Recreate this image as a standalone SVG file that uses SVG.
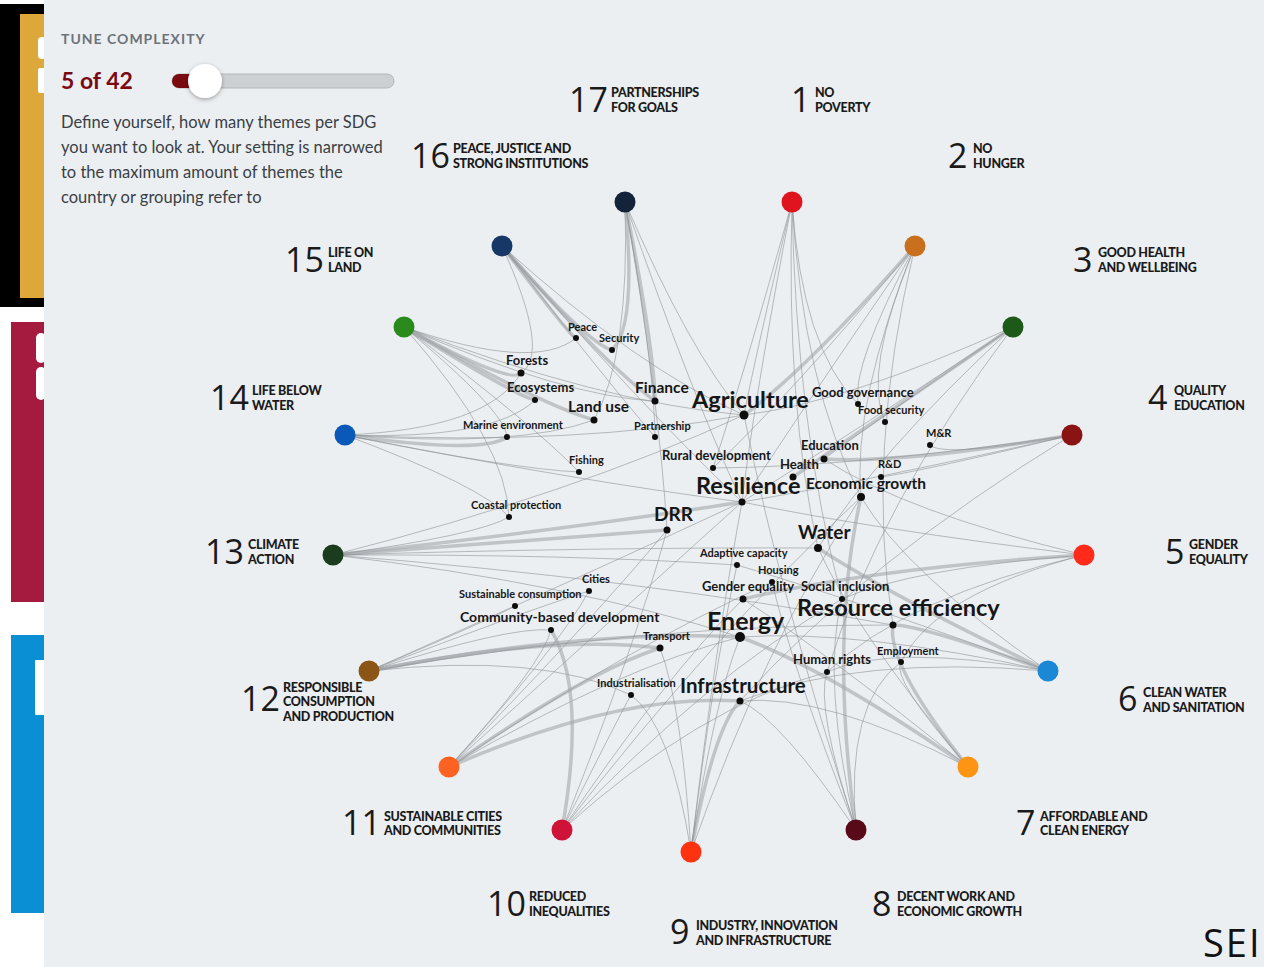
<svg xmlns="http://www.w3.org/2000/svg" width="1264" height="967" viewBox="0 0 1264 967">
<defs>
<style>
.e{fill:none;stroke:#8e9296;stroke-width:1;opacity:.6}
.t{fill:none;stroke:#a3a6aa;stroke-width:3.5;opacity:.6}
.num{font-family:"Open Sans","Liberation Sans",sans-serif;font-weight:400;font-size:34px;fill:#1a1a1a}
.cap{font-family:Lato,"Liberation Sans",sans-serif;font-weight:900;font-size:12.5px;fill:#1a1a1a;letter-spacing:-0.3px}
.lb{font-family:Lato,"Liberation Sans",sans-serif;font-weight:700;fill:#161616}
.xs{font-size:11px}.s{font-size:13px}.m{font-size:15.5px}.l{font-size:19px}.xl{font-size:23.5px}
.dot{fill:#0d0d0d}
.para{font-family:Lato,"Liberation Sans",sans-serif;font-size:16.5px;fill:#3a3f45}
.sl{fill:#fff}
</style>
<filter id="sh" x="-50%" y="-50%" width="200%" height="200%"><feDropShadow dx="0" dy="1.5" stdDeviation="2" flood-color="#000" flood-opacity="0.35"/></filter>
</defs>
<rect x="0" y="0" width="1264" height="967" fill="#ffffff"/>
<g id="left-strip">
<rect x="0" y="4" width="44" height="303" fill="#000"/>
<rect x="20" y="14" width="24" height="284" fill="#dea73a"/>
<rect class="sl" x="38" y="37" width="8" height="22" rx="4"/>
<rect class="sl" x="38" y="68" width="8" height="25" rx="2"/>
<rect x="11" y="322" width="33" height="280" fill="#a51b40"/>
<rect class="sl" x="36" y="333" width="10" height="30" rx="5"/>
<rect class="sl" x="36" y="367" width="10" height="33" rx="5"/>
<rect x="11" y="635" width="33" height="278" fill="#0a8fd4"/>
<rect class="sl" x="35" y="660" width="11" height="55" rx="1"/>
</g>
<rect x="44" y="0" width="1220" height="967" fill="#eceff2"/>
<g id="panel">
<text x="61" y="44" font-family="Lato,'Liberation Sans',sans-serif" font-weight="700" font-size="14" letter-spacing="1" fill="#6d737a">TUNE COMPLEXITY</text>
<text x="61" y="89" font-family="Lato,'Liberation Sans',sans-serif" font-weight="700" font-size="23" fill="#7a0a12">5 of 42</text>
<rect x="172" y="74" width="222" height="14" rx="7" fill="#cdd0d3" stroke="#b3b6b9" stroke-width="1"/>
<rect x="172" y="74" width="40" height="14" rx="7" fill="#7a0a10"/>
<circle cx="205" cy="81" r="17" fill="#fff" filter="url(#sh)"/>
<text class="para" x="61" y="128">Define yourself, how many themes per SDG</text>
<text class="para" x="61" y="153">you want to look at. Your setting is narrowed</text>
<text class="para" x="61" y="178">to the maximum amount of themes the</text>
<text class="para" x="61" y="203">country or grouping refer to</text>
</g>
<g id="connectors">
<path class="t" d="M625,202 Q654,347 655,401"/>
<path class="e" d="M625,202 Q690,353 744,415"/>
<path class="e" d="M625,202 Q654,362 655,437"/>
<path class="e" d="M625,202 Q689,388 742,502"/>
<path class="e" d="M625,202 Q630,355 594,420"/>
<path class="t" d="M625,202 Q637,327 612,350"/>
<path class="e" d="M625,202 Q659,399 667,530"/>
<path class="t" d="M502,246 Q573,340 576,338"/>
<path class="t" d="M502,246 Q588,344 612,350"/>
<path class="t" d="M502,246 Q605,365 655,401"/>
<path class="e" d="M502,246 Q640,370 744,415"/>
<path class="e" d="M502,246 Q605,379 655,437"/>
<path class="e" d="M502,246 Q640,405 742,502"/>
<path class="e" d="M502,246 Q551,354 521,373"/>
<path class="t" d="M404,327 Q512,386 521,373"/>
<path class="t" d="M404,327 Q518,397 535,400"/>
<path class="t" d="M404,327 Q541,405 594,420"/>
<path class="e" d="M404,327 Q601,403 744,415"/>
<path class="e" d="M404,327 Q534,372 576,338"/>
<path class="e" d="M404,327 Q566,397 655,401"/>
<path class="e" d="M404,327 Q507,444 509,517"/>
<path class="e" d="M404,327 Q535,426 579,472"/>
<path class="e" d="M404,327 Q506,412 507,437"/>
<path class="t" d="M345,435 Q483,455 507,437"/>
<path class="e" d="M345,435 Q512,469 579,472"/>
<path class="e" d="M345,435 Q494,440 535,400"/>
<path class="e" d="M345,435 Q518,448 594,420"/>
<path class="e" d="M345,435 Q484,487 509,517"/>
<path class="e" d="M345,435 Q578,446 744,415"/>
<path class="e" d="M345,435 Q577,481 742,502"/>
<path class="e" d="M345,435 Q488,429 521,373"/>
<path class="t" d="M333,555 Q542,540 667,530"/>
<path class="t" d="M333,555 Q572,529 742,502"/>
<path class="e" d="M333,555 Q479,535 509,517"/>
<path class="e" d="M333,555 Q570,554 737,565"/>
<path class="e" d="M333,555 Q571,583 740,637"/>
<path class="e" d="M333,555 Q602,547 818,548"/>
<path class="e" d="M333,555 Q573,494 744,415"/>
<path class="e" d="M333,555 Q632,578 893,625"/>
<path class="e" d="M369,671 Q496,617 515,606"/>
<path class="t" d="M369,671 Q554,634 660,648"/>
<path class="t" d="M369,671 Q586,629 740,637"/>
<path class="e" d="M369,671 Q647,624 893,625"/>
<path class="e" d="M369,671 Q525,611 589,591"/>
<path class="e" d="M369,671 Q510,626 551,630"/>
<path class="e" d="M369,671 Q542,652 631,695"/>
<path class="e" d="M369,671 Q586,575 742,502"/>
<path class="e" d="M449,767 Q557,649 589,591"/>
<path class="t" d="M449,767 Q586,672 660,648"/>
<path class="t" d="M449,767 Q618,693 740,701"/>
<path class="e" d="M449,767 Q618,668 740,637"/>
<path class="e" d="M449,767 Q630,646 772,582"/>
<path class="e" d="M449,767 Q618,614 742,502"/>
<path class="e" d="M449,767 Q542,665 551,630"/>
<path class="e" d="M449,767 Q588,625 667,530"/>
<path class="t" d="M562,830 Q587,690 551,630"/>
<path class="e" d="M562,830 Q664,678 743,599"/>
<path class="e" d="M562,830 Q704,678 842,599"/>
<path class="e" d="M562,830 Q698,707 827,672"/>
<path class="e" d="M562,830 Q619,716 631,695"/>
<path class="e" d="M562,830 Q711,637 861,497"/>
<path class="e" d="M562,830 Q634,650 667,530"/>
<path class="t" d="M691,852 Q714,727 740,701"/>
<path class="e" d="M691,852 Q671,725 631,695"/>
<path class="e" d="M691,852 Q714,702 740,637"/>
<path class="e" d="M691,852 Q715,648 742,502"/>
<path class="e" d="M691,852 Q682,706 660,648"/>
<path class="e" d="M691,852 Q763,646 861,497"/>
<path class="e" d="M691,852 Q713,673 737,565"/>
<path class="t" d="M856,830 Q829,637 861,497"/>
<path class="e" d="M856,830 Q845,703 901,662"/>
<path class="e" d="M856,830 Q815,707 827,672"/>
<path class="e" d="M856,830 Q780,718 740,701"/>
<path class="e" d="M856,830 Q782,604 744,415"/>
<path class="e" d="M856,830 Q821,678 842,599"/>
<path class="e" d="M856,830 Q793,671 772,582"/>
<path class="t" d="M968,767 Q825,668 740,637"/>
<path class="t" d="M968,767 Q886,663 893,625"/>
<path class="e" d="M968,767 Q825,693 740,701"/>
<path class="e" d="M968,767 Q856,632 818,548"/>
<path class="e" d="M968,767 Q890,678 901,662"/>
<path class="e" d="M968,767 Q826,652 743,599"/>
<path class="t" d="M1048,671 Q888,594 818,548"/>
<path class="t" d="M1048,671 Q918,624 893,625"/>
<path class="e" d="M1048,671 Q857,655 740,701"/>
<path class="e" d="M1048,671 Q892,643 827,672"/>
<path class="e" d="M1048,671 Q857,629 740,637"/>
<path class="e" d="M1048,671 Q906,573 861,497"/>
<path class="e" d="M1048,671 Q856,600 737,565"/>
<path class="t" d="M1084,555 Q873,568 743,599"/>
<path class="e" d="M1084,555 Q912,568 842,599"/>
<path class="e" d="M1084,555 Q906,597 827,672"/>
<path class="e" d="M1084,555 Q872,529 742,502"/>
<path class="e" d="M1084,555 Q905,512 824,459"/>
<path class="e" d="M1084,555 Q936,593 901,662"/>
<path class="t" d="M1072,435 Q900,464 824,459"/>
<path class="e" d="M1072,435 Q943,458 930,445"/>
<path class="e" d="M1072,435 Q923,471 881,477"/>
<path class="e" d="M1072,435 Q868,481 742,502"/>
<path class="e" d="M1072,435 Q867,560 740,701"/>
<path class="e" d="M1072,435 Q856,467 713,468"/>
<path class="t" d="M1013,327 Q864,428 793,477"/>
<path class="e" d="M1013,327 Q844,438 742,502"/>
<path class="e" d="M1013,327 Q874,456 818,548"/>
<path class="e" d="M1013,327 Q877,420 824,459"/>
<path class="e" d="M1013,327 Q878,506 827,672"/>
<path class="e" d="M1013,327 Q845,403 744,415"/>
<path class="t" d="M915,246 Q806,370 744,415"/>
<path class="e" d="M915,246 Q862,373 885,422"/>
<path class="e" d="M915,246 Q805,405 742,502"/>
<path class="e" d="M915,246 Q793,392 713,468"/>
<path class="e" d="M915,246 Q852,403 861,497"/>
<path class="e" d="M915,246 Q865,454 893,625"/>
<path class="e" d="M915,246 Q851,366 858,404"/>
<path class="e" d="M792,202 Q756,388 742,502"/>
<path class="e" d="M792,202 Q803,386 861,497"/>
<path class="e" d="M792,202 Q744,374 713,468"/>
<path class="e" d="M792,202 Q796,426 842,599"/>
<path class="e" d="M792,202 Q786,406 818,548"/>
<path class="e" d="M792,202 Q802,348 858,404"/>
<path class="e" d="M792,202 Q756,353 744,415"/>
</g>
<g id="sdg17"><circle cx="625" cy="202" r="10.5" fill="#13233a"/><text class="num" x="569" y="112">17</text><text class="cap" x="611" y="97">PARTNERSHIPS</text><text class="cap" x="611" y="112">FOR GOALS</text></g>
<g id="sdg1"><circle cx="792" cy="202" r="10.5" fill="#e0141e"/><text class="num" x="791" y="112">1</text><text class="cap" x="815" y="97">NO</text><text class="cap" x="815" y="112">POVERTY</text></g>
<g id="sdg16"><circle cx="502" cy="246" r="10.5" fill="#173866"/><text class="num" x="411" y="168">16</text><text class="cap" x="453" y="153">PEACE, JUSTICE AND</text><text class="cap" x="453" y="168">STRONG INSTITUTIONS</text></g>
<g id="sdg2"><circle cx="915" cy="246" r="10.5" fill="#c8701e"/><text class="num" x="948" y="168">2</text><text class="cap" x="973" y="153">NO</text><text class="cap" x="973" y="168">HUNGER</text></g>
<g id="sdg15"><circle cx="404" cy="327" r="10.5" fill="#2a8a1c"/><text class="num" x="285" y="272">15</text><text class="cap" x="328" y="257">LIFE ON</text><text class="cap" x="328" y="272">LAND</text></g>
<g id="sdg3"><circle cx="1013" cy="327" r="10.5" fill="#1d5a19"/><text class="num" x="1073" y="272">3</text><text class="cap" x="1098" y="257">GOOD HEALTH</text><text class="cap" x="1098" y="272">AND WELLBEING</text></g>
<g id="sdg14"><circle cx="345" cy="435" r="10.5" fill="#0a58b8"/><text class="num" x="210" y="410">14</text><text class="cap" x="252" y="395">LIFE BELOW</text><text class="cap" x="252" y="410">WATER</text></g>
<g id="sdg4"><circle cx="1072" cy="435" r="10.5" fill="#8a1414"/><text class="num" x="1148" y="410">4</text><text class="cap" x="1174" y="395">QUALITY</text><text class="cap" x="1174" y="410">EDUCATION</text></g>
<g id="sdg13"><circle cx="333" cy="555" r="10.5" fill="#1b3d1d"/><text class="num" x="205" y="564">13</text><text class="cap" x="248" y="549">CLIMATE</text><text class="cap" x="248" y="564">ACTION</text></g>
<g id="sdg5"><circle cx="1084" cy="555" r="10.5" fill="#ff2a1a"/><text class="num" x="1165" y="564">5</text><text class="cap" x="1189" y="549">GENDER</text><text class="cap" x="1189" y="564">EQUALITY</text></g>
<g id="sdg12"><circle cx="369" cy="671" r="10.5" fill="#8a5515"/><text class="num" x="241" y="711">12</text><text class="cap" x="283" y="692">RESPONSIBLE</text><text class="cap" x="283" y="706">CONSUMPTION</text><text class="cap" x="283" y="721">AND PRODUCTION</text></g>
<g id="sdg6"><circle cx="1048" cy="671" r="10.5" fill="#1a88d4"/><text class="num" x="1118" y="711">6</text><text class="cap" x="1143" y="697">CLEAN WATER</text><text class="cap" x="1143" y="712">AND SANITATION</text></g>
<g id="sdg11"><circle cx="449" cy="767" r="10.5" fill="#fd6222"/><text class="num" x="342" y="835">11</text><text class="cap" x="384" y="821">SUSTAINABLE CITIES</text><text class="cap" x="384" y="835">AND COMMUNITIES</text></g>
<g id="sdg7"><circle cx="968" cy="767" r="10.5" fill="#fd9414"/><text class="num" x="1016" y="835">7</text><text class="cap" x="1040" y="821">AFFORDABLE AND</text><text class="cap" x="1040" y="835">CLEAN ENERGY</text></g>
<g id="sdg10"><circle cx="562" cy="830" r="10.5" fill="#cf1238"/><text class="num" x="487" y="916">10</text><text class="cap" x="529" y="901">REDUCED</text><text class="cap" x="529" y="916">INEQUALITIES</text></g>
<g id="sdg8"><circle cx="856" cy="830" r="10.5" fill="#580a18"/><text class="num" x="872" y="916">8</text><text class="cap" x="897" y="901">DECENT WORK AND</text><text class="cap" x="897" y="916">ECONOMIC GROWTH</text></g>
<g id="sdg9"><circle cx="691" cy="852" r="10.5" fill="#fd3210"/><text class="num" x="670" y="944">9</text><text class="cap" x="696" y="930">INDUSTRY, INNOVATION</text><text class="cap" x="696" y="945">AND INFRASTRUCTURE</text></g>
<g id="theme-peace"><circle class="dot" cx="576" cy="338" r="3"/><text class="lb xs" x="568" y="331">Peace</text></g>
<g id="theme-security"><circle class="dot" cx="612" cy="350" r="3"/><text class="lb xs" x="599" y="342">Security</text></g>
<g id="theme-forests"><circle class="dot" cx="521" cy="373" r="3.5"/><text class="lb s" x="506" y="365">Forests</text></g>
<g id="theme-ecosystems"><circle class="dot" cx="535" cy="400" r="3"/><text class="lb s" x="507" y="392">Ecosystems</text></g>
<g id="theme-finance"><circle class="dot" cx="655" cy="401" r="3.5"/><text class="lb m" x="635" y="393">Finance</text></g>
<g id="theme-landuse"><circle class="dot" cx="594" cy="420" r="3.5"/><text class="lb m" x="568" y="412">Land use</text></g>
<g id="theme-agriculture"><circle class="dot" cx="744" cy="415" r="4.5"/><text class="lb xl" x="692" y="408">Agriculture</text></g>
<g id="theme-goodgov"><circle class="dot" cx="858" cy="404" r="3"/><text class="lb s" x="812" y="397">Good governance</text></g>
<g id="theme-foodsec"><circle class="dot" cx="885" cy="422" r="3"/><text class="lb xs" x="858" y="414">Food security</text></g>
<g id="theme-mr"><circle class="dot" cx="930" cy="445" r="3"/><text class="lb xs" x="926" y="437">M&amp;R</text></g>
<g id="theme-marine"><circle class="dot" cx="507" cy="437" r="3"/><text class="lb xs" x="463" y="429">Marine environment</text></g>
<g id="theme-partnership"><circle class="dot" cx="655" cy="437" r="3"/><text class="lb xs" x="634" y="430">Partnership</text></g>
<g id="theme-education"><circle class="dot" cx="824" cy="459" r="3.5"/><text class="lb s" x="801" y="450">Education</text></g>
<g id="theme-rural"><circle class="dot" cx="713" cy="468" r="3"/><text class="lb s" x="662" y="460">Rural development</text></g>
<g id="theme-health"><circle class="dot" cx="793" cy="477" r="3.5"/><text class="lb s" x="780" y="469">Health</text></g>
<g id="theme-rd"><circle class="dot" cx="881" cy="477" r="3"/><text class="lb xs" x="878" y="468">R&amp;D</text></g>
<g id="theme-fishing"><circle class="dot" cx="579" cy="472" r="3"/><text class="lb xs" x="569" y="464">Fishing</text></g>
<g id="theme-resilience"><circle class="dot" cx="742" cy="502" r="3.5"/><text class="lb xl" x="696" y="494">Resilience</text></g>
<g id="theme-econ"><circle class="dot" cx="861" cy="497" r="4"/><text class="lb m" x="806" y="489">Economic growth</text></g>
<g id="theme-coastal"><circle class="dot" cx="509" cy="517" r="3"/><text class="lb xs" x="471" y="509">Coastal protection</text></g>
<g id="theme-drr"><circle class="dot" cx="667" cy="530" r="3.5"/><text class="lb l" x="654" y="521">DRR</text></g>
<g id="theme-water"><circle class="dot" cx="818" cy="548" r="4"/><text class="lb l" x="798" y="539">Water</text></g>
<g id="theme-adaptive"><circle class="dot" cx="737" cy="565" r="3"/><text class="lb xs" x="700" y="557">Adaptive capacity</text></g>
<g id="theme-housing"><circle class="dot" cx="772" cy="582" r="3"/><text class="lb xs" x="758" y="574">Housing</text></g>
<g id="theme-cities"><circle class="dot" cx="589" cy="591" r="3"/><text class="lb xs" x="582" y="583">Cities</text></g>
<g id="theme-sustcons"><circle class="dot" cx="515" cy="606" r="3"/><text class="lb xs" x="459" y="598">Sustainable consumption</text></g>
<g id="theme-gender"><circle class="dot" cx="743" cy="599" r="3.5"/><text class="lb s" x="702" y="591">Gender equality</text></g>
<g id="theme-social"><circle class="dot" cx="842" cy="599" r="3"/><text class="lb s" x="801" y="591">Social inclusion</text></g>
<g id="theme-resource"><circle class="dot" cx="893" cy="625" r="3.5"/><text class="lb xl" x="797" y="616">Resource efficiency</text></g>
<g id="theme-community"><circle class="dot" cx="551" cy="630" r="3"/><text class="lb s" x="460" y="622" style="font-size:14px">Community-based development</text></g>
<g id="theme-energy"><circle class="dot" cx="740" cy="637" r="5"/><text class="lb xl" x="707" y="630" style="font-size:25px">Energy</text></g>
<g id="theme-transport"><circle class="dot" cx="660" cy="648" r="3.5"/><text class="lb xs" x="643" y="640">Transport</text></g>
<g id="theme-human"><circle class="dot" cx="827" cy="672" r="3"/><text class="lb s" x="793" y="664">Human rights</text></g>
<g id="theme-employment"><circle class="dot" cx="901" cy="662" r="3"/><text class="lb xs" x="877" y="655">Employment</text></g>
<g id="theme-industrial"><circle class="dot" cx="631" cy="695" r="3"/><text class="lb xs" x="597" y="687">Industrialisation</text></g>
<g id="theme-infra"><circle class="dot" cx="740" cy="701" r="3.5"/><text class="lb l" x="680" y="693" style="font-size:20.5px">Infrastructure</text></g>
<text x="1203" y="957" font-family="'Open Sans','Liberation Sans',sans-serif" font-size="38" letter-spacing="2" fill="#111">SEI</text>
</svg>
